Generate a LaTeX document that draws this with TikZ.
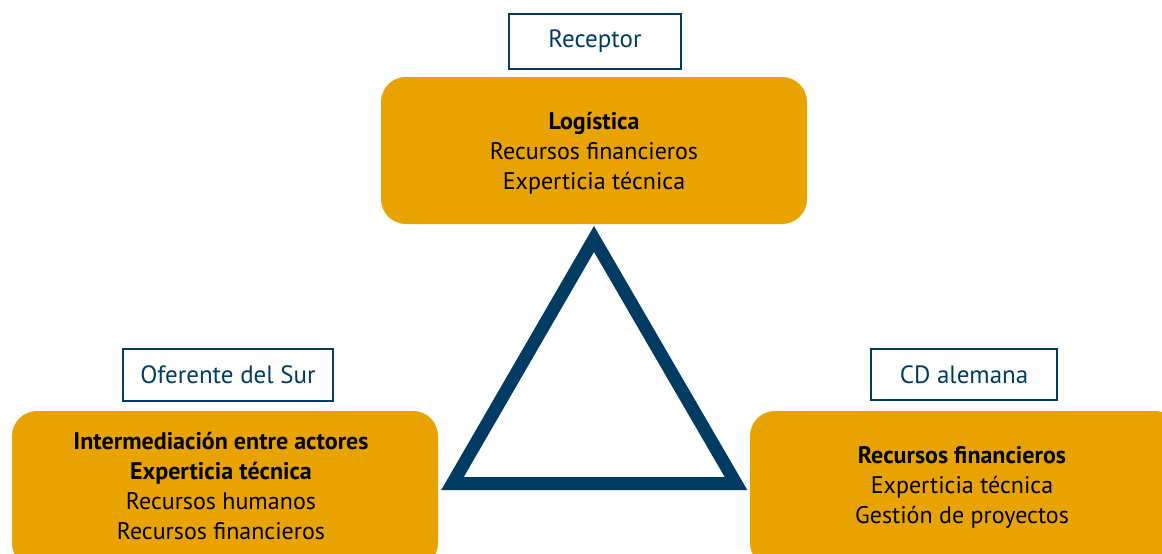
\documentclass[tikz,border=0pt]{standalone}
\usepackage{fontspec}
\setmainfont{PT Sans}
\definecolor{gold}{HTML}{E8A300}
\definecolor{navy}{HTML}{003B64}
\begin{document}
\begin{tikzpicture}[x=1pt,y=-1pt,
  orangebox/.style={fill=gold, draw=none, rounded corners=25pt},
  labelbox/.style={draw=navy, line width=2pt, fill=white, text=navy, font=\fontsize{25}{30}\selectfont, inner sep=0pt, anchor=north west},
  boxtext/.style={align=center, font=\fontsize{24}{30}\selectfont, text=black}]
\useasboundingbox (0,0) rectangle (1162,554);
\clip (0,0) rectangle (1162,554);
% top
\node[labelbox, minimum width=172pt, minimum height=55pt] (rec) at (508,13) {Receptor};
\draw[orangebox] (381,77) rectangle (807,224);
\node[boxtext] (top) at (594,153) {\textbf{Logística}\\Recursos financieros\\Experticia técnica};
% left
\node[labelbox, minimum width=210pt, minimum height=52pt] (ofe) at (122,348) {Oferente del Sur};
\draw[orangebox] (12,411) rectangle (438,568);
\node[boxtext] (left) at (221,486) {\textbf{Intermediación entre actores}\\\textbf{Experticia técnica}\\Recursos humanos\\Recursos financieros};
% right
\node[labelbox, minimum width=186pt, minimum height=51pt] (cd) at (870,348) {CD alemana};
\draw[orangebox] (750,411) rectangle (1180,568);
\node[boxtext] (right) at (962,487) {\textbf{Recursos financieros}\\Experticia técnica\\Gestión de proyectos};
% triangle
\coordinate (ta) at (594,239);
\coordinate (tl) at (452.5,483.5);
\coordinate (tr) at (736,483.5);
\draw[navy, line width=13pt, line join=miter] (ta) -- (tl) -- (tr) -- cycle;
\end{tikzpicture}
\end{document}
